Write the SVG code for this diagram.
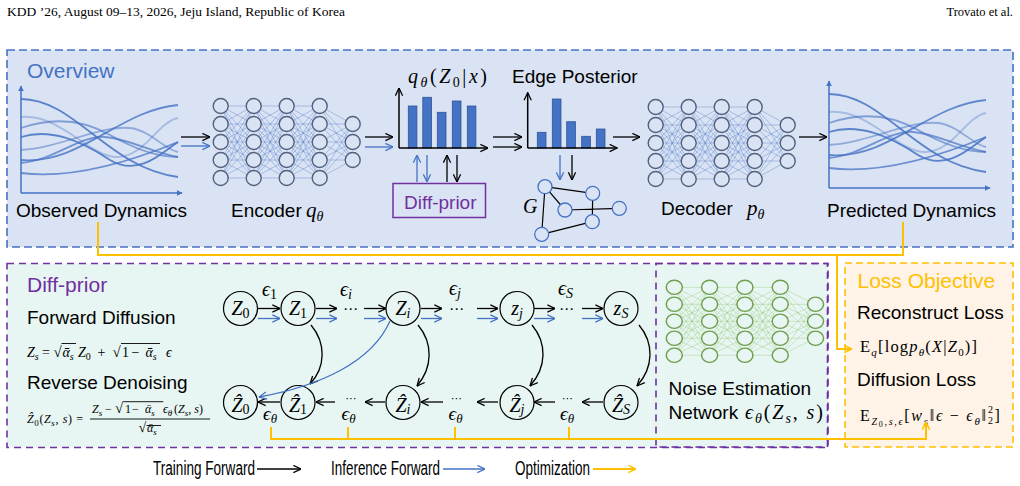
<svg xmlns="http://www.w3.org/2000/svg" width="1020" height="486" viewBox="0 0 1020 486">
<style>
.s{font-family:"Liberation Sans",Arial,sans-serif;fill:#000}
.f19{font-size:19px}
.f21{font-size:21px}
.m{font-family:"Liberation Serif","DejaVu Serif",serif;font-style:italic;fill:#000}
.u{font-style:normal}
.hd{font-family:"Liberation Serif","DejaVu Serif",serif;font-size:12.5px;fill:#000}
.cv{fill:none;stroke:#4472c4;stroke-width:1.8}
.ax{stroke:#4472c4;stroke-width:1.5;fill:none}
.hax{stroke:#000;stroke-width:1.5;fill:none}
.bar{fill:#4472c4;stroke:#2f5597;stroke-width:.8}
.k{stroke:#000;stroke-width:1.3;fill:none}
.b{stroke:#4472c4;stroke-width:1.3;fill:none}
.o{stroke:#ffc000;stroke-width:2;fill:none}
.node{fill:#e8f6f3;stroke:#000;stroke-width:1.2}
.gn{fill:#dae3f3;stroke:#4472c4;stroke-width:1.3}
.ge{stroke:#000;stroke-width:1.2}
.vin{stroke:#000;stroke-width:.9}
</style>
<defs>
<marker id="ak" viewBox="0 0 10 10" refX="9.5" refY="5" markerWidth="9" markerHeight="9" markerUnits="userSpaceOnUse" orient="auto"><path d="M1,1L9.5,5L1,9" fill="none" stroke="#000" stroke-width="1.4"/></marker>
<marker id="ab" viewBox="0 0 10 10" refX="9.5" refY="5" markerWidth="9" markerHeight="9" markerUnits="userSpaceOnUse" orient="auto"><path d="M1,1L9.5,5L1,9" fill="none" stroke="#4472c4" stroke-width="1.4"/></marker>
<marker id="ao" viewBox="0 0 10 10" refX="9.5" refY="5" markerWidth="9" markerHeight="9" markerUnits="userSpaceOnUse" orient="auto"><path d="M1,1L9.5,5L1,9" fill="none" stroke="#ffc000" stroke-width="1.6"/></marker>
<marker id="at" viewBox="0 0 10 10" refX="9" refY="5" markerWidth="6" markerHeight="6" markerUnits="userSpaceOnUse" orient="auto"><path d="M0,0L10,5L0,10z" fill="#4472c4"/></marker>
<path id="b55" d="M0,0L33,0M0,0L33,18M0,0L33,36M0,0L33,54M0,0L33,72M0,18L33,0M0,18L33,18M0,18L33,36M0,18L33,54M0,18L33,72M0,36L33,0M0,36L33,18M0,36L33,36M0,36L33,54M0,36L33,72M0,54L33,0M0,54L33,18M0,54L33,36M0,54L33,54M0,54L33,72M0,72L33,0M0,72L33,18M0,72L33,36M0,72L33,54M0,72L33,72"/>
<path id="b53" d="M0,0L33,18M0,0L33,36M0,0L33,54M0,18L33,18M0,18L33,36M0,18L33,54M0,36L33,18M0,36L33,36M0,36L33,54M0,54L33,18M0,54L33,36M0,54L33,54M0,72L33,18M0,72L33,36M0,72L33,54"/>
<g id="nn">
<g stroke="currentColor" stroke-opacity=".45" stroke-width=".8" fill="none">
<use href="#b55"/><use href="#b55" x="33"/><use href="#b55" x="66"/><use href="#b53" x="99"/>
</g>
<g stroke-width="1.4">
<circle cx="0" cy="0" r="7.5"/><circle cx="0" cy="18" r="7.5"/><circle cx="0" cy="36" r="7.5"/><circle cx="0" cy="54" r="7.5"/><circle cx="0" cy="72" r="7.5"/>
<circle cx="33" cy="0" r="7.5"/><circle cx="33" cy="18" r="7.5"/><circle cx="33" cy="36" r="7.5"/><circle cx="33" cy="54" r="7.5"/><circle cx="33" cy="72" r="7.5"/>
<circle cx="66" cy="0" r="7.5"/><circle cx="66" cy="18" r="7.5"/><circle cx="66" cy="36" r="7.5"/><circle cx="66" cy="54" r="7.5"/><circle cx="66" cy="72" r="7.5"/>
<circle cx="99" cy="0" r="7.5"/><circle cx="99" cy="18" r="7.5"/><circle cx="99" cy="36" r="7.5"/><circle cx="99" cy="54" r="7.5"/><circle cx="99" cy="72" r="7.5"/>
<circle cx="132" cy="18" r="7.5"/><circle cx="132" cy="36" r="7.5"/><circle cx="132" cy="54" r="7.5"/>
</g>
</g>
<g id="dyn">
<path class="ax" d="M21,193V86" marker-end="url(#at)"/>
<path class="ax" d="M21,193H182" marker-end="url(#at)"/>
<path class="cv" d="M21,99C75,99 108,168 178,177" stroke-opacity=".85"/>
<path class="cv" d="M21,117C60,113 90,158 118,157C145,156 158,122 178,118" stroke-opacity=".35"/>
<path class="cv" d="M21,128C50,118 80,118 110,135C140,152 160,157 178,157" stroke-opacity=".6"/>
<path class="cv" d="M21,137C50,128 80,140 110,160C140,178 165,150 178,142" stroke-opacity=".85"/>
<path class="cv" d="M21,163C55,160 80,135 105,137C130,139 150,152 178,157" stroke-opacity=".7"/>
<path class="cv" d="M21,173C60,178 110,170 178,142" stroke-opacity=".75"/>
<path class="cv" d="M21,160C80,165 120,110 178,105" stroke-opacity=".8"/>
<path class="cv" d="M21,150C60,148 100,125 130,128C150,130 165,150 178,152" stroke-opacity=".5"/>
</g>
</defs>

<rect width="1020" height="486" fill="#fff"/>
<g id="header">
<text class="hd" x="7" y="16" textLength="338" lengthAdjust="spacingAndGlyphs">KDD ’26, August 09–13, 2026, Jeju Island, Republic of Korea</text>
<text class="hd" x="1013" y="16" text-anchor="end">Trovato et al.</text>
</g>

<g id="boxes">
<rect x="7" y="50" width="1006" height="197" fill="#dae3f3" stroke="#4472c4" stroke-width="1.6" stroke-dasharray="8,4"/>
<rect x="7" y="263.5" width="821" height="184" fill="#e8f6f3" stroke="#7030a0" stroke-width="1.6" stroke-dasharray="7,5"/>
<rect x="656" y="263.5" width="171.5" height="183.5" fill="none" stroke="#7030a0" stroke-width="1.6" stroke-dasharray="7,5"/>
<rect x="845" y="263" width="168" height="184" fill="#fef3e6" stroke="#ffc000" stroke-width="1.6" stroke-dasharray="7,4"/>
<text class="s f21" x="27" y="78" style="fill:#4472c4">Overview</text>
<text class="s f21" x="27" y="292" style="fill:#7030a0">Diff-prior</text>
<text class="s f21" x="857.5" y="288" style="fill:#ffc000">Loss Objective</text>
</g>

<g id="observed">
<use href="#dyn"/>
<text class="s f19" x="16" y="217">Observed Dynamics</text>
</g>

<g id="encoder">
<use href="#nn" x="220.7" y="106" stroke="#50607e" fill="#dae3f3" color="#4472c4"/>
<text class="s f19" x="231" y="217">Encoder</text>
<text class="m" x="306" y="217" font-size="21">q<tspan font-size="14" dy="4">θ</tspan></text>
</g>

<g id="posterior-z">
<rect class="bar" x="408.3" y="106" width="8.6" height="42"/>
<rect class="bar" x="422.8" y="97.3" width="8.7" height="50.7"/>
<rect class="bar" x="437.3" y="112.3" width="8.7" height="35.7"/>
<rect class="bar" x="452.3" y="101" width="8.7" height="47"/>
<rect class="bar" x="467.3" y="106" width="8.6" height="42"/>
<path class="hax" d="M399,148V88" marker-end="url(#ak)"/>
<path class="hax" d="M399,148H488" marker-end="url(#ak)"/>
<text class="m" x="408" y="83" font-size="20" textLength="79" lengthAdjust="spacing">q<tspan font-size="14" dy="4">θ</tspan><tspan class="u" dy="-4">(</tspan>Z<tspan class="u" font-size="14" dy="4">0</tspan><tspan class="u" dy="-4">|</tspan>x<tspan class="u">)</tspan></text>
</g>

<g id="diffprior-block">
<rect x="393" y="183.5" width="92.5" height="34" fill="#dae3f3" stroke="#7030a0" stroke-width="1.5"/>
<text class="s f19" x="404" y="208.5" style="fill:#7030a0">Diff-prior</text>
</g>

<g id="edge-posterior">
<rect class="bar" x="537.3" y="132.3" width="8.7" height="15.7"/>
<rect class="bar" x="552.3" y="99" width="8.7" height="49"/>
<rect class="bar" x="566.7" y="121.7" width="8.7" height="26.3"/>
<rect class="bar" x="581.7" y="136.3" width="8.7" height="11.7"/>
<rect class="bar" x="596.3" y="129" width="8.7" height="19"/>
<path class="hax" d="M527.7,148V92.7" marker-end="url(#ak)"/>
<path class="hax" d="M527.7,148H617.3" marker-end="url(#ak)"/>
<text class="s f19" x="512" y="83">Edge Posterior</text>
</g>

<g id="graph-G">
<path class="ge" d="M545,186.7L592.7,193.3M545,186.7L565,210M545,186.7L541.7,234.3M565,210L619.3,208.3M592.7,193.3L592.3,221.7M592.3,221.7L541.7,234.3"/>
<circle class="gn" cx="545" cy="186.7" r="7"/>
<circle class="gn" cx="592.7" cy="193.3" r="7"/>
<circle class="gn" cx="565" cy="210" r="7"/>
<circle class="gn" cx="619.3" cy="208.3" r="7"/>
<circle class="gn" cx="592.3" cy="221.7" r="7"/>
<circle class="gn" cx="541.7" cy="234.3" r="7"/>
<text class="m" x="523" y="213" font-size="20">G</text>
</g>

<g id="decoder">
<use href="#nn" x="655.7" y="107" stroke="#50607e" fill="#dae3f3" color="#4472c4"/>
<text class="s f19" x="661" y="215">Decoder</text>
<text class="m" x="747" y="215" font-size="21">p<tspan font-size="14" dy="4">θ</tspan></text>
</g>

<g id="predicted">
<use href="#dyn" x="808" y="-5"/>
<text class="s f19" x="827" y="217">Predicted Dynamics</text>
</g>

<g id="diff-text">
<text class="s f19" x="27" y="323.5">Forward Diffusion</text>
<text class="m" y="357" font-size="14"><tspan x="27">Z</tspan><tspan font-size="10" dy="3">s</tspan><tspan class="u" x="42" dy="-3">=</tspan><tspan class="u" x="53.5" font-size="15">√</tspan><tspan x="62.5" font-size="14">ᾱ</tspan><tspan font-size="10" dy="3">s</tspan><tspan x="78" dy="-3">Z</tspan><tspan class="u" font-size="10" dy="3">0</tspan><tspan class="u" x="97.5" dy="-3">+</tspan><tspan class="u" x="112.5" font-size="15">√</tspan><tspan class="u" x="122" font-size="14">1</tspan><tspan class="u" x="131.5">−</tspan><tspan x="145.5">ᾱ</tspan><tspan font-size="10" dy="3">s</tspan><tspan x="166" dy="-3">ϵ</tspan></text>
<path class="vin" d="M61.5,343.5H76M121,343.5H160"/>
<text class="s f19" x="27" y="388.5">Reverse Denoising</text>
<text class="m" y="423" font-size="12" textLength="56" lengthAdjust="spacing"><tspan x="27">Ẑ</tspan><tspan class="u" font-size="9" dy="3">0</tspan><tspan class="u" dy="-3">(</tspan>Z<tspan font-size="9" dy="3">s</tspan><tspan class="u" dy="-3">, </tspan>s<tspan class="u">) =</tspan></text>
<text class="m" y="413" font-size="12"><tspan x="92">Z</tspan><tspan font-size="9" dy="3">s</tspan><tspan class="u" x="105" dy="-3">−</tspan><tspan class="u" x="115" font-size="15">√</tspan><tspan class="u" x="125" font-size="12">1</tspan><tspan class="u" x="132">−</tspan><tspan x="145">ᾱ</tspan><tspan font-size="9" dy="3">s</tspan><tspan x="163" dy="-3">ϵ</tspan><tspan font-size="9" dy="3">θ</tspan><tspan class="u" x="174" dy="-3">(</tspan>Z<tspan font-size="9" dy="3">s</tspan><tspan class="u" dy="-3">, </tspan>s<tspan class="u">)</tspan></text>
<path class="vin" d="M123.3,401.7H163.3M90,419H210M146.5,425.5H161"/>
<text class="m" y="432" font-size="12"><tspan class="u" x="138.5" font-size="14">√</tspan><tspan x="147" font-size="12">ᾱ</tspan><tspan font-size="9" dy="3">s</tspan></text>
</g>

<g id="chain-nodes">
<g id="n-z0"><circle class="node" cx="240.5" cy="308.5" r="17"/><text class="m" x="240.5" y="315" font-size="20" text-anchor="middle">Z<tspan class="u" font-size="14" dy="3">0</tspan></text></g>
<g id="n-z1"><circle class="node" cx="298" cy="308.5" r="17"/><text class="m" x="298" y="315" font-size="20" text-anchor="middle">Z<tspan class="u" font-size="14" dy="3">1</tspan></text></g>
<g id="n-zi"><circle class="node" cx="403" cy="308.5" r="17"/><text class="m" x="403" y="315" font-size="20" text-anchor="middle">Z<tspan font-size="14" dy="3">i</tspan></text></g>
<g id="n-zj"><circle class="node" cx="517" cy="308.5" r="17"/><text class="m" x="517" y="315" font-size="20" text-anchor="middle">z<tspan font-size="14" dy="3">j</tspan></text></g>
<g id="n-zs"><circle class="node" cx="621" cy="308.5" r="17"/><text class="m" x="621" y="315" font-size="20" text-anchor="middle">z<tspan font-size="14" dy="3">S</tspan></text></g>
<g id="n-h0"><circle class="node" cx="240.5" cy="402.5" r="17"/><text class="m" x="240.5" y="411.5" font-size="20" text-anchor="middle">Ẑ<tspan class="u" font-size="14" dy="2">0</tspan></text></g>
<g id="n-h1"><circle class="node" cx="298" cy="402.5" r="17"/><text class="m" x="298" y="411.5" font-size="20" text-anchor="middle">Ẑ<tspan class="u" font-size="14" dy="2">1</tspan></text></g>
<g id="n-hi"><circle class="node" cx="403" cy="402.5" r="17"/><text class="m" x="403" y="411.5" font-size="20" text-anchor="middle">Ẑ<tspan font-size="14" dy="2">i</tspan></text></g>
<g id="n-hj"><circle class="node" cx="517" cy="402.5" r="17"/><text class="m" x="517" y="411.5" font-size="20" text-anchor="middle">Ẑ<tspan font-size="14" dy="2">j</tspan></text></g>
<g id="n-hs"><circle class="node" cx="621" cy="402.5" r="17"/><text class="m" x="621" y="411.5" font-size="20" text-anchor="middle">Ẑ<tspan font-size="14" dy="2">S</tspan></text></g>
</g>

<g id="chain-labels">
<text class="m" x="262" y="296" font-size="20">ϵ<tspan class="u" font-size="14" dy="3">1</tspan></text>
<text class="m" x="340" y="296" font-size="20">ϵ<tspan font-size="14" dy="3">i</tspan></text>
<text class="m" x="449" y="295" font-size="20">ϵ<tspan font-size="14" dy="3">j</tspan></text>
<text class="m" x="558" y="295" font-size="20">ϵ<tspan font-size="14" dy="3">S</tspan></text>
<text class="m" x="263" y="420" font-size="19">ϵ<tspan font-size="13" dy="3">θ</tspan></text>
<text class="m" x="341.5" y="420" font-size="19">ϵ<tspan font-size="13" dy="3">θ</tspan></text>
<text class="m" x="448.5" y="420" font-size="19">ϵ<tspan font-size="13" dy="3">θ</tspan></text>
<text class="m" x="560" y="420" font-size="19">ϵ<tspan font-size="13" dy="3">θ</tspan></text>
<g font-family="DejaVu Sans,sans-serif" text-anchor="middle" fill="#000">
<text x="350.5" y="314" font-size="15">⋯</text><text x="456.5" y="314" font-size="15">⋯</text><text x="566.5" y="314" font-size="15">⋯</text>
<text x="351" y="402" font-size="11">⋯</text><text x="456.5" y="402" font-size="11">⋯</text><text x="567.5" y="402" font-size="11">⋯</text>
</g>
</g>

<g id="noise-net">
<use href="#nn" transform="translate(674.3,287.3) scale(1.07,0.944)" stroke="#6f9e4c" fill="#e8f6f3" color="#8dc26a"/>
<text class="s f19" x="668.5" y="395">Noise Estimation</text>
<text class="s f19" x="668.5" y="418.5">Network</text>
<text class="m" x="745" y="418.5" font-size="20" textLength="78" lengthAdjust="spacing">ϵ<tspan font-size="14" dy="4">θ</tspan><tspan class="u" dy="-4">(</tspan>Z<tspan font-size="14" dy="4">s</tspan><tspan class="u" dy="-4">, </tspan>s<tspan class="u">)</tspan></text>
</g>

<g id="loss">
<text class="s f19" x="857" y="318.5">Reconstruct Loss</text>
<text class="m" x="860" y="352" font-size="16.5" textLength="117" lengthAdjust="spacing"><tspan class="u">E</tspan><tspan font-size="11" dy="4">q</tspan><tspan class="u" dy="-4">[log</tspan>p<tspan font-size="11" dy="4">θ</tspan><tspan class="u" dy="-4">(</tspan>X<tspan class="u">|</tspan>Z<tspan class="u" font-size="11" dy="4">0</tspan><tspan class="u" dy="-4">)]</tspan></text>
<text class="s f19" x="857" y="385.5">Diffusion Loss</text>
<text class="m" x="860" y="420.5" font-size="16" textLength="126" lengthAdjust="spacing"><tspan class="u">E</tspan><tspan font-size="10" dy="4">Z</tspan><tspan class="u" font-size="8" dy="2">0</tspan><tspan font-size="10" dy="-2">,s,ϵ</tspan><tspan class="u" dy="-4">[</tspan>w<tspan font-size="11" dy="4">s</tspan><tspan class="u" dy="-4">‖</tspan>ϵ<tspan class="u"> − </tspan>ϵ<tspan font-size="11" dy="4">θ</tspan><tspan class="u" dy="-4">‖</tspan></text>
<text class="m u" x="988" y="413" font-size="10">2</text>
<text class="m u" x="988" y="424" font-size="10">2</text>
<text class="m u" x="994.5" y="420.5" font-size="16">]</text>
</g>

<g id="connectors">
<path class="k" d="M181,137H210" marker-end="url(#ak)"/>
<path class="b" d="M181,146H210" marker-end="url(#ab)"/>
<path class="k" d="M365,137H393" marker-end="url(#ak)"/>
<path class="b" d="M365,147H393" marker-end="url(#ab)"/>
<path class="k" d="M493,137H522" marker-end="url(#ak)"/>
<path class="k" d="M493,147H522" marker-end="url(#ak)"/>
<path class="k" d="M613,137H640" marker-end="url(#ak)"/>
<path class="k" d="M799,137H827" marker-end="url(#ak)"/>
<path class="b" d="M417,182V155" marker-end="url(#ab)"/>
<path class="b" d="M427,155V182" marker-end="url(#ab)"/>
<path class="k" d="M447,182V155" marker-end="url(#ak)"/>
<path class="k" d="M457,155V182" marker-end="url(#ak)"/>
<path class="b" d="M560,155V180" marker-end="url(#ab)"/>
<path class="k" d="M572,155V180" marker-end="url(#ak)"/>

<path class="k" d="M258,308.5H280" marker-end="url(#ak)"/>
<path class="k" d="M316,308.5H337" marker-end="url(#ak)"/>
<path class="k" d="M364,308.5H386" marker-end="url(#ak)"/>
<path class="k" d="M421,308.5H442" marker-end="url(#ak)"/>
<path class="k" d="M477,308.5H498" marker-end="url(#ak)"/>
<path class="k" d="M534,308.5H555" marker-end="url(#ak)"/>
<path class="k" d="M582,308.5H603" marker-end="url(#ak)"/>
<path class="b" d="M258,318.5H280" marker-end="url(#ab)"/>
<path class="b" d="M316,318.5H337" marker-end="url(#ab)"/>
<path class="b" d="M364,318.5H386" marker-end="url(#ab)"/>
<path class="b" d="M421,318.5H442" marker-end="url(#ab)"/>
<path class="b" d="M477,318.5H498" marker-end="url(#ab)"/>
<path class="b" d="M534,318.5H555" marker-end="url(#ab)"/>
<path class="b" d="M582,318.5H603" marker-end="url(#ab)"/>

<path class="k" d="M280,402H258" marker-end="url(#ak)"/>
<path class="k" d="M335,402H316" marker-end="url(#ak)"/>
<path class="k" d="M385,402H365" marker-end="url(#ak)"/>
<path class="k" d="M443,402H421" marker-end="url(#ak)"/>
<path class="k" d="M498,402H477" marker-end="url(#ak)"/>
<path class="k" d="M555,402H534" marker-end="url(#ak)"/>
<path class="k" d="M603,402H582" marker-end="url(#ak)"/>

<path class="k" d="M311,325C326,343 326,367 310,384" marker-end="url(#ak)"/>
<path class="k" d="M418,325C433,343 433,367 417,386" marker-end="url(#ak)"/>
<path class="k" d="M532,325C547,343 547,367 530,386" marker-end="url(#ak)"/>
<path class="k" d="M639,325C654,343 654,367 637,386" marker-end="url(#ak)"/>
<path class="b" d="M390,321C372,362 320,386 259,397" marker-end="url(#ab)"/>

<path class="o" d="M98,222V255H903V222"/>
<path class="o" d="M837,255V349H852" marker-end="url(#ao)"/>
<path class="o" d="M271,427V439H926V422" marker-end="url(#ao)"/>
<path class="o" d="M348,427V439M455,427V439M569,427V439"/>
</g>

<g id="legend">
<text class="s" x="153" y="475" font-size="19.5" textLength="102" lengthAdjust="spacingAndGlyphs">Training Forward</text>
<path class="k" d="M257,469H301" marker-end="url(#ak)"/>
<text class="s" x="331" y="475" font-size="19.5" textLength="109" lengthAdjust="spacingAndGlyphs">Inference Forward</text>
<path class="b" d="M443,469H485" marker-end="url(#ab)"/>
<text class="s" x="515" y="475" font-size="19.5" textLength="75" lengthAdjust="spacingAndGlyphs">Optimization</text>
<path class="o" d="M593,469H636" stroke-width="1.5" marker-end="url(#ao)"/>
</g>
</svg>
